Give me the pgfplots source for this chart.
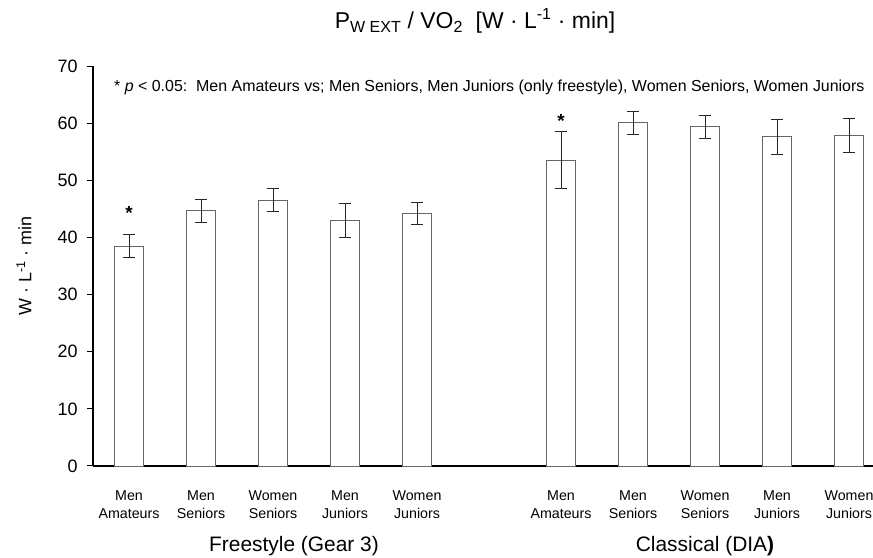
\documentclass[border=0pt]{standalone}
\usepackage{fontspec}
\setmainfont{Liberation Sans}
\usepackage{pgfplots}
\usepackage{pgfplotstable}
\pgfplotsset{compat=1.18}
\pgfplotstableread{
x y e
0 38.5 2.0
1 44.7 2.0
2 46.5 2.0
3 43.0 3.0
4 44.2 2.0
6 53.5 5.0
7 60.1 2.0
8 59.4 2.0
9 57.6 3.0
10 57.9 3.0
}\datatable
\begin{document}
\begin{tikzpicture}
\useasboundingbox (0,0) rectangle (873bp,558bp);
\begin{axis}[
  at={(93bp,92bp)}, anchor=south west,
  scale only axis, width=780bp, height=400bp,
  xmin=-0.5, xmax=10.333, ymin=0, ymax=70,
  axis x line=bottom, axis y line=left,
  axis line style={line width=2.5bp, -},
  ytick={0,10,...,70},
  tick align=outside, major tick length=6bp,
  y tick style={line width=1bp, black},
  xtick={0,1,2,3,4,6,7,8,9,10},
  xticklabels={Men\\Amateurs,Men\\Seniors,Women\\Seniors,Men\\Juniors,Women\\Juniors,Men\\Amateurs,Men\\Seniors,Women\\Seniors,Men\\Juniors,Women\\Juniors},
  xticklabel style={align=center, font=\fontsize{14.3}{18.5}\selectfont, yshift=-15bp},
  x tick style={draw=none},
  yticklabel style={font=\fontsize{18}{18}\selectfont, xshift=-6bp},
  /pgf/number format/assume math mode=true,
  ybar, bar width=29bp,
  clip=false,
]
\addplot[fill=white, draw=black!60, line width=0.8bp,
  error bars/.cd, y dir=both, y explicit,
  error bar style={black!85, line width=0.8bp},
  error mark options={rotate=90, mark size=6bp, line width=0.8bp, black!85}]
  table[x=x, y=y, y error=e] {\datatable};
\node[font=\fontsize{19}{19}\selectfont\bfseries] at (axis cs:0,44.3) {*};
\node[font=\fontsize{19}{19}\selectfont\bfseries] at (axis cs:6,60.3) {*};
\node[anchor=west, inner sep=0pt, font=\fontsize{16}{16}\selectfont] at (axis cs:-0.208,66.2)
  {* \textit{p} < 0.05:\ \ Men Amateurs vs; Men Seniors, Men Juniors (only freestyle), Women Seniors, Women Juniors};
\end{axis}
\node[font=\fontsize{23}{23}\selectfont] at (475bp,537bp)
  {P\textsubscript{W EXT} / VO\textsubscript{2}\ \ [W · L\textsuperscript{-1} · min]};
\node[rotate=90, font=\fontsize{18}{18}\selectfont] at (24bp,292bp) {W · L\textsuperscript{-1} · min};
\node[font=\fontsize{21}{21}\selectfont] at (294bp,12bp) {Freestyle (Gear 3)};
\node[font=\fontsize{21}{21}\selectfont] at (705bp,12bp) {Classical (DIA\textbf{)}};
\end{tikzpicture}
\end{document}
